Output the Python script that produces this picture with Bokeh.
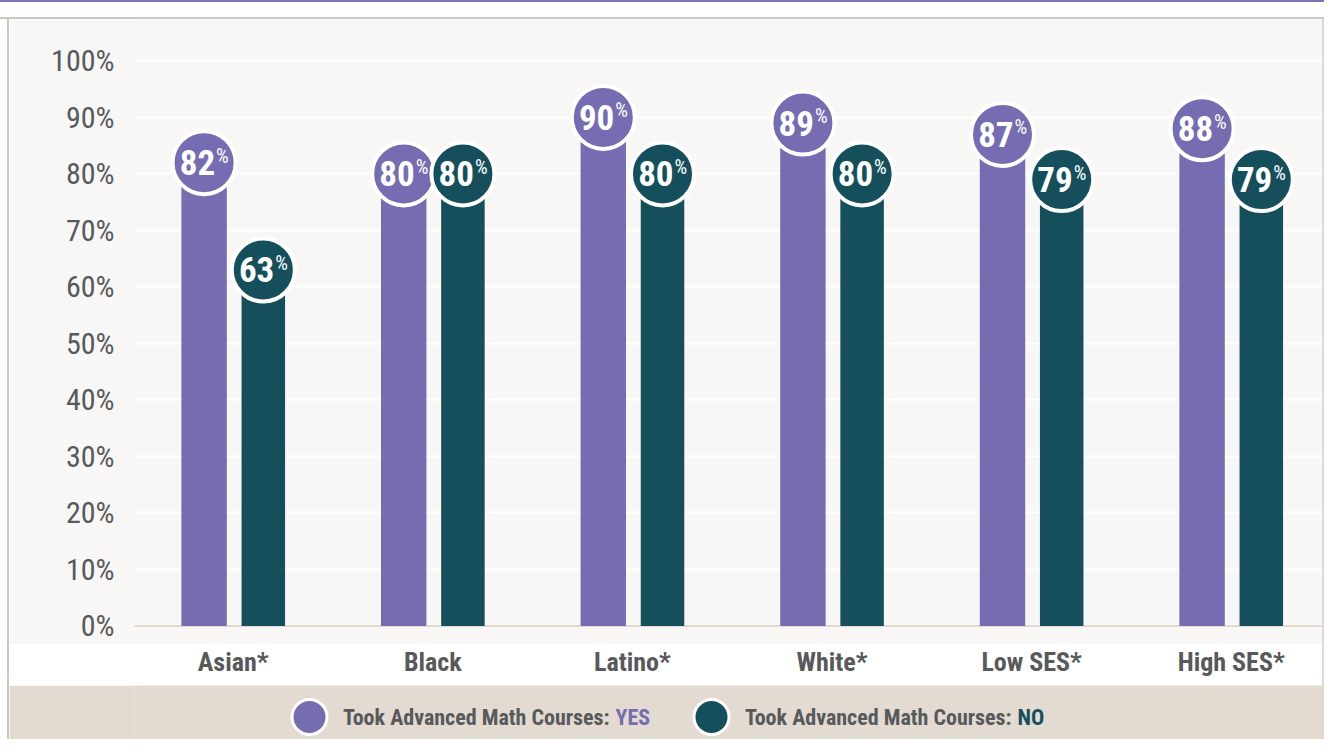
from bokeh.plotting import figure
from bokeh.models import Range1d, FixedTicker, Span, Div, ColumnDataSource
from bokeh.layouts import row, column
from bokeh.core.properties import value
from bokeh.embed import file_html
from bokeh.resources import INLINE

# ---------------- data ----------------
categories = ["Asian*", "Black", "Latino*", "White*", "Low SES*", "High SES*"]
yes_values = [82, 80, 90, 89, 87, 88]
no_values = [63, 80, 80, 80, 79, 79]
y_ticks = [0, 10, 20, 30, 40, 50, 60, 70, 80, 90, 100]
series_labels = ["YES", "NO"]
legend_prefix = "Took Advanced Math Courses:"

# ---------------- style ----------------
PURPLE = "#756cb1"
TEAL = "#164f5c"
PANEL = "#f8f7f5"
BEIGE = "#e3dad1"
BORDER = "#c9c7bf"
TXT = "#58595b"
NARROW = "Roboto Condensed, Noto Sans Condensed, DejaVu Sans Condensed, sans-serif"

FIG_W = 1313

idx = list(range(len(categories)))
x_yes = [i - 0.1458 for i in idx]
x_no = [i + 0.1508 for i in idx]

src_yes = ColumnDataSource(dict(x=x_yes, top=yes_values, lab=[str(v) for v in yes_values],
                                pct=["%"] * len(yes_values)))
src_no = ColumnDataSource(dict(x=x_no, top=no_values, lab=[str(v) for v in no_values],
                               pct=["%"] * len(no_values)))

x_range = Range1d(-0.4945, 5.4574)

main = figure(width=FIG_W, height=625, x_range=x_range, y_range=Range1d(-3.274, 107.33),
              output_backend="svg", toolbar_location=None, x_axis_location=None,
              min_border_left=125, min_border_right=0, min_border_top=0, min_border_bottom=0,
              background_fill_color=PANEL, border_fill_color=PANEL, outline_line_color=None)
main.xgrid.visible = False
main.ygrid.ticker = FixedTicker(ticks=y_ticks)
main.ygrid.grid_line_color = "#ffffff"
main.ygrid.grid_line_width = 2

ya = main.yaxis[0]
ya.ticker = FixedTicker(ticks=y_ticks)
ya.major_label_overrides = {t: f"{t}%" for t in y_ticks}
ya.axis_line_color = None
ya.major_tick_line_color = None
ya.minor_tick_line_color = None
ya.major_tick_out = 0
ya.major_tick_in = 0
ya.major_label_standoff = 20
ya.major_label_text_font = NARROW
ya.major_label_text_font_size = "30px"
ya.major_label_text_color = TXT

zero = Span(location=0, dimension="width", line_color="#e3d8cf", line_width=2, level="underlay")
main.add_layout(zero)

main.vbar(x="x", top="top", bottom=0, width=0.2275, source=src_yes, fill_color=PURPLE, line_color=None)
main.vbar(x="x", top="top", bottom=0, width=0.218, source=src_no, fill_color=TEAL, line_color=None)

for src, col in ((src_yes, PURPLE), (src_no, TEAL)):
    main.scatter(x="x", y="top", source=src, size=63, marker="circle", fill_color=col,
                 line_color="#ffffff", line_width=4)
    main.text(x="x", y="top", text="lab", source=src, text_align="right", text_baseline="middle",
              x_offset=11, y_offset=0, text_color="#ffffff", text_font=value(NARROW),
              text_font_style="bold", text_font_size="35px")
    main.text(x="x", y="top", text="pct", source=src, text_align="left", text_baseline="middle",
              x_offset=12, y_offset=-7, text_color="#ffffff", text_font=value(NARROW),
              text_font_size="20px")

# ---------------- category labels band ----------------
labs = figure(width=FIG_W, height=41, x_range=x_range, y_range=Range1d(0, 1),
              output_backend="svg", toolbar_location=None, y_axis_location=None,
              min_border_left=125, min_border_right=0, min_border_top=0, min_border_bottom=39,
              background_fill_color="#ffffff", border_fill_color="#ffffff", outline_line_color=None)
labs.xgrid.visible = False
labs.ygrid.visible = False
xa = labs.xaxis[0]
xa.ticker = FixedTicker(ticks=idx)
xa.major_label_overrides = {i: c for i, c in zip(idx, categories)}
xa.axis_line_color = None
xa.major_tick_line_color = None
xa.minor_tick_line_color = None
xa.major_tick_out = 0
xa.major_tick_in = 0
xa.major_label_standoff = 0
xa.major_label_text_font = NARROW
xa.major_label_text_font_style = "bold"
xa.major_label_text_font_size = "26px"
xa.major_label_text_color = TXT

# ---------------- legend band ----------------
# frame of this band is aligned with the chart frame; x units are pixels from the band's left edge
leg = figure(width=FIG_W, height=54, x_range=Range1d(125, FIG_W), y_range=Range1d(0, 54),
             output_backend="svg", toolbar_location=None, x_axis_location=None, y_axis_location=None,
             min_border_left=125, min_border_right=0, min_border_top=0, min_border_bottom=0,
             background_fill_color=BEIGE, border_fill_color=BEIGE, outline_line_color=None)
leg.xgrid.visible = False
leg.ygrid.visible = False
leg_src = ColumnDataSource(dict(
    cx=[300, 702], cy=[22.5, 22.5], color=[PURPLE, TEAL],
    jx=[600, 1002], prefix=[legend_prefix] * 2, suffix=series_labels,
))
leg.scatter(x="cx", y="cy", source=leg_src, size=35, marker="circle", fill_color="color",
            line_color="#ffffff", line_width=3)
leg.text(x="jx", y="cy", text="prefix", source=leg_src, text_align="right", text_baseline="middle",
         text_color=TXT, text_font=value(NARROW), text_font_style="bold", text_font_size="22px")
leg.text(x="jx", y="cy", text="suffix", source=leg_src, text_align="left", text_baseline="middle",
         x_offset=6, text_color="color", text_font=value(NARROW), text_font_style="bold",
         text_font_size="22px")

top_div = Div(text="", width=1324, height=19, margin=0,
              styles={"background": "linear-gradient(to bottom, #7d74b6 0px, #7d74b6 2px, #ffffff 2px, #ffffff 17px, #c9c7bf 17px, #c9c7bf 19px)"})
spacer = Div(text="", width=7, height=720, margin=0, styles={"background-color": "#ffffff"})
left_strip = Div(text="", width=2, height=720, margin=0, styles={"background-color": BORDER})
right_strip = Div(text="", width=2, height=720, margin=0, styles={"background-color": "#dcdad4"})

layout = column(top_div, row(spacer, left_strip, column(main, labs, leg), right_strip))

open("out.html", "w").write(file_html(layout, INLINE))
